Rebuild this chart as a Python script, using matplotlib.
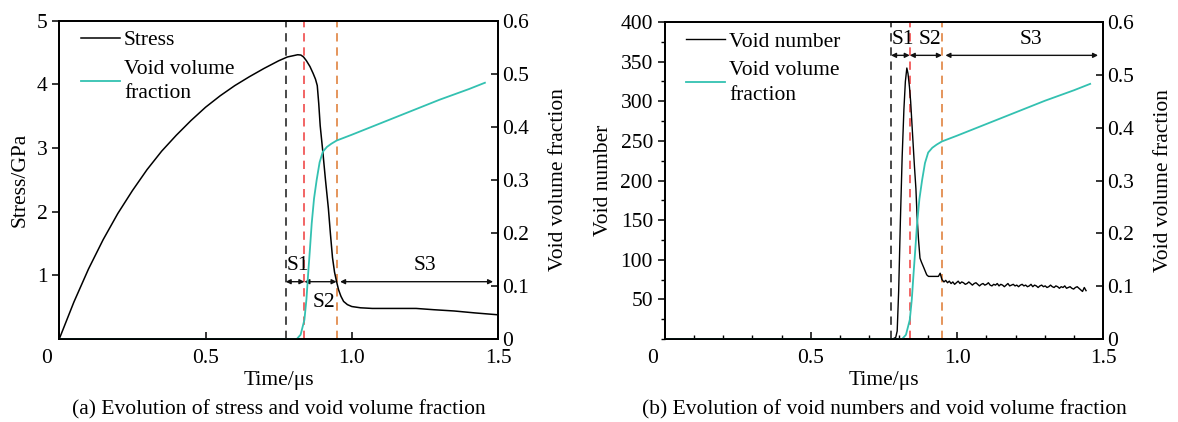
import numpy as np
import matplotlib
matplotlib.use("Agg")
import matplotlib.pyplot as plt
from matplotlib.ticker import MultipleLocator

plt.rcParams['font.family'] = ['Liberation Serif', 'DejaVu Serif']
FS = 15.5

# ---------------- data ----------------
t_stress = [0, 0.05, 0.1, 0.15, 0.2, 0.25, 0.3, 0.35, 0.4, 0.45, 0.5, 0.55, 0.6, 0.65,
            0.7, 0.75, 0.78, 0.80, 0.815, 0.826, 0.835, 0.845, 0.857, 0.868, 0.876,
            0.882, 0.887, 0.892, 0.901, 0.91, 0.92, 0.927, 0.934, 0.941, 0.948, 0.955,
            0.963, 0.972, 0.985, 1.0, 1.03, 1.07, 1.15, 1.22, 1.28, 1.35, 1.42, 1.5]
stress = [0, 0.58, 1.10, 1.56, 1.97, 2.33, 2.66, 2.95, 3.20, 3.43, 3.64, 3.82, 3.98, 4.12,
          4.25, 4.37, 4.43, 4.45, 4.465, 4.46, 4.43, 4.37, 4.28, 4.17, 4.08,
          3.98, 3.70, 3.35, 2.94, 2.50, 2.05, 1.65, 1.28, 1.05, 0.90, 0.77,
          0.67, 0.59, 0.54, 0.51, 0.49, 0.48, 0.48, 0.48, 0.46, 0.44, 0.41, 0.38]

t_vvf = [0, 0.812, 0.825, 0.838, 0.845, 0.851, 0.857, 0.863, 0.871, 0.880, 0.89,
         0.901, 0.915, 0.93, 0.948, 1.0, 1.1, 1.2, 1.3, 1.4, 1.455]
vvf = [0, 0, 0.008, 0.036, 0.075, 0.124, 0.17, 0.218, 0.265, 0.30, 0.333,
       0.353, 0.362, 0.368, 0.374, 0.385, 0.407, 0.429, 0.451, 0.471, 0.483]

t_void_head = [0, 0.78, 0.79, 0.795, 0.80, 0.806, 0.812, 0.818, 0.823, 0.828, 0.832,
               0.837, 0.841, 0.847, 0.854, 0.859, 0.863, 0.868, 0.873, 0.878, 0.886,
               0.896, 0.902, 0.918, 0.936, 0.942, 0.948]
void_head = [0, 0, 2, 10, 60, 150, 230, 290, 325, 342, 335,
             318, 300, 262, 218, 190, 155, 125, 102, 97, 90,
             81, 79, 79, 79, 83, 75]
void_tail = [72, 74, 71, 73, 70, 72, 69, 71, 73, 70, 72, 71, 69, 70, 72, 70, 68, 70, 71, 69,
             67, 69, 70, 68, 69, 71, 68, 67, 69, 68, 70, 67, 69, 68, 66, 68, 70, 67, 68, 69,
             67, 68, 66, 68, 69, 67, 68, 66, 67, 69, 66, 68, 67, 65, 67, 68, 66, 67, 65, 66,
             68, 66, 65, 67, 66, 64, 66, 65, 67, 64, 65, 66, 64, 63, 65, 66, 64, 62, 60, 65, 61]
t_void_tail_start, t_void_tail_end = 0.955, 1.441

stage_bounds = [0.774, 0.838, 0.948]
stage_colors = ['#2a2a2a', '#f04a4a', '#e0833f']
xticks = [0, 0.5, 1.0, 1.5]
xticklabels = ['', '0.5', '1.0', '1.5']
vvf_ticks = [0, 0.1, 0.2, 0.3, 0.4, 0.5, 0.6]
vvf_labels = ['0', '0.1', '0.2', '0.3', '0.4', '0.5', '0.6']
stress_ticks = [1, 2, 3, 4, 5]
void_ticks = [50, 100, 150, 200, 250, 300, 350, 400]

CYAN = '#33c1b1'

t_void = list(t_void_head) + list(np.linspace(t_void_tail_start, t_void_tail_end, len(void_tail)))
void_num = list(void_head) + list(void_tail)

# ---------------- figure ----------------
fig = plt.figure(figsize=(11.78, 4.22), dpi=100)
axL = fig.add_axes([0.0503, 0.1967, 0.3725, 0.7543])
axR = fig.add_axes([0.5643, 0.1967, 0.3723, 0.7510])


def style(ax, ax2):
    for a in (ax, ax2):
        for s in a.spines.values():
            s.set_linewidth(1.3)
    ax.set_xlim(0, 1.5)
    ax.set_xticks(xticks)
    ax.set_xticklabels(xticklabels)
    ax.tick_params(axis='x', direction='in', length=5, width=1.1, labelsize=FS, pad=7, top=False)
    ax.tick_params(axis='y', direction='out', length=5, width=1.1, labelsize=FS, right=False)
    ax.tick_params(which='minor', axis='x', direction='in', length=3, width=1.0)
    ax.tick_params(which='minor', axis='y', direction='out', length=3, width=1.0)
    ax.annotate('0', xy=(0, 0), xycoords='axes fraction', xytext=(-9, -7),
                textcoords='offset points', ha='center', va='top', fontsize=FS)
    ax2.set_ylim(0, 0.6)
    ax2.set_yticks(vvf_ticks)
    ax2.set_yticklabels(vvf_labels)
    ax2.tick_params(axis='y', direction='in', length=5, width=1.1, labelsize=FS, pad=3)
    ax2.set_ylabel('Void volume fraction', fontsize=FS, labelpad=14)
    ax.set_xlabel('Time/\u03bcs', fontsize=FS, labelpad=2.5)


def arrows(ax, y, xs_end, labels_pos):
    a0, a1, a2 = stage_bounds
    kw = dict(arrowstyle='<|-|>', color='#111111', lw=1.0, mutation_scale=7,
              shrinkA=0, shrinkB=0)
    ax.annotate('', xy=(a1, y), xytext=(a0, y), arrowprops=kw)
    ax.annotate('', xy=(a2, y), xytext=(a1, y), arrowprops=kw)
    ax.annotate('', xy=(xs_end, y), xytext=(a2 + 0.012, y), arrowprops=kw)
    for txt, (x, yy) in labels_pos:
        ax.text(x, yy, txt, fontsize=FS, ha='center', va='center')


leg_kw = dict(loc='upper left', frameon=False, fontsize=FS, handlelength=1.8,
              handletextpad=0.2, labelspacing=0.45, borderaxespad=0.3,
              bbox_to_anchor=(0.015, 1.018))


def make_legend(ax2, handles, labels):
    leg = ax2.legend(handles, labels, **leg_kw)
    for t in leg.get_texts():
        t.set_linespacing(1.4)
    return leg


# ----- (a) -----
axL2 = axL.twinx()
axL.set_ylim(0, 5)
axL.set_yticks(stress_ticks)
for b, c in zip(stage_bounds, stage_colors):
    axL.axvline(b, color=c, lw=1.2, ls=(0, (5, 3.5)), zorder=1)
lS, = axL.plot(t_stress, stress, color='black', lw=1.1, zorder=3)
lV, = axL2.plot(t_vvf, vvf, color=CYAN, lw=1.3)
style(axL, axL2)
axL.set_ylabel('Stress/GPa', fontsize=FS, labelpad=5)
arrows(axL, 0.9, 1.483,
       [('S1', (0.814, 1.15)), ('S2', (0.904, 0.58)), ('S3', (1.25, 1.15))])
make_legend(axL2, [lS, lV], ['Stress', 'Void volume\nfraction'])

# ----- (b) -----
axR2 = axR.twinx()
axR.set_ylim(0, 400)
axR.set_yticks(void_ticks)
axR.yaxis.set_minor_locator(MultipleLocator(25))
axR.xaxis.set_minor_locator(MultipleLocator(0.1))
for b, c in zip(stage_bounds, stage_colors):
    axR.axvline(b, color=c, lw=1.2, ls=(0, (5, 3.5)), zorder=1)
lN, = axR.plot(t_void, void_num, color='black', lw=1.0, zorder=3)
lV2, = axR2.plot(t_vvf, vvf, color=CYAN, lw=1.3)
style(axR, axR2)
axR.set_ylabel('Void number', fontsize=FS, labelpad=5)
arrows(axR, 358, 1.482,
       [('S1', (0.816, 378)), ('S2', (0.907, 378)), ('S3', (1.254, 378))])
make_legend(axR2, [lN, lV2], ['Void number', 'Void volume\nfraction'])

# captions
fig.text(0.2365, 0.030, '(a) Evolution of stress and void volume fraction',
         ha='center', va='center', fontsize=FS)
fig.text(0.7505, 0.030, '(b) Evolution of void numbers and void volume fraction',
         ha='center', va='center', fontsize=FS)

fig.savefig('out.png', dpi=100)
